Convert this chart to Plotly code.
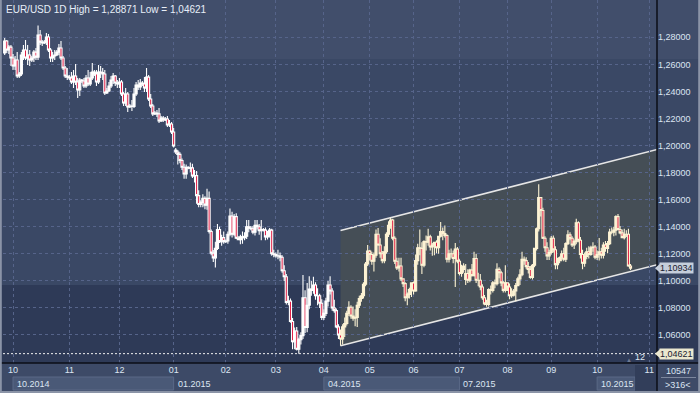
import pandas as pd
import plotly.graph_objects as go

# ---------------- data ----------------
symbol = "EUR/USD"
period = "1D"

session_start = "2014-09-26"
session_end = "2015-10-23"
sunday_sessions_until = "2015-03-01"      # feed printed Sunday candles until March 2015
closed_days = ["2014-11-30", "2014-12-25", "2015-01-01"]

opens = [
    # Sep/Oct 2014
    1.2684, 1.2773, 1.2706, 1.2728, 1.2647, 1.2588, 1.2632, 1.2514, 1.2529, 1.2669, 1.2706, 1.2647, 1.2669, 1.2632, 1.2647, 1.2691,
    1.2654, 1.2817, 1.2765, 1.2758, 1.2765, 1.2802, 1.2706, 1.2647, 1.2662, 1.2669, 1.2691, 1.2721, 1.2647, 1.2573, 1.2514,
    # Nov 2014
    1.2506, 1.2499, 1.2470, 1.2514, 1.2470, 1.2411, 1.2484, 1.2477, 1.2440, 1.2499, 1.2455, 1.2499, 1.2543, 1.2529, 1.2470, 1.2543,
    1.2540, 1.2529, 1.2389, 1.2403, 1.2440, 1.2484, 1.2514, 1.2462,
    # Dec 2014
    1.2455, 1.2470, 1.2381, 1.2315, 1.2381, 1.2285, 1.2293, 1.2290, 1.2381, 1.2448, 1.2433, 1.2462, 1.2455, 1.2426, 1.2506, 1.2344,
    1.2293, 1.2234, 1.2241, 1.2234, 1.2182, 1.2204, 1.2189, 1.2197, 1.2152, 1.2160,
    # Jan 2015
    1.2100, 1.1967, 1.1953, 1.1935, 1.1890, 1.1840, 1.1790, 1.1840, 1.1833, 1.1835, 1.1775, 1.1778, 1.1630, 1.1565, 1.1580, 1.1610,
    1.1560, 1.1610, 1.1365, 1.1205, 1.1170, 1.1240, 1.1380, 1.1290, 1.1320,
    # Feb 2015
    1.1290, 1.1295, 1.1345, 1.1480, 1.1345, 1.1475, 1.1315, 1.1305, 1.1325, 1.1320, 1.1330, 1.1400, 1.1390, 1.1385, 1.1360, 1.1410,
    1.1400, 1.1370, 1.1380, 1.1375, 1.1325, 1.1335, 1.1375, 1.1200,
    # Mar 2015
    1.1195, 1.1185, 1.1185, 1.1175, 1.1075, 1.1030, 1.0840, 1.0850, 1.0700, 1.0550, 1.0630, 1.0495, 1.0565, 1.0595, 1.0875, 1.0655,
    1.0820, 1.0940, 1.0930, 1.0970, 1.0890, 1.0890, 1.0835,
    # Apr 2015
    1.0730, 1.0760, 1.0850, 1.0970, 1.0925, 1.0800, 1.0780, 1.0660, 1.0600, 1.0570, 1.0660, 1.0685, 1.0760, 1.0805, 1.0740, 1.0725,
    1.0730, 1.0820, 1.0870, 1.0890, 1.0975, 1.1125,
    # May 2015
    1.1220, 1.1195, 1.1145, 1.1190, 1.1345, 1.1265, 1.1200, 1.1150, 1.1215, 1.1345, 1.1410, 1.1450, 1.1315, 1.1145, 1.1095, 1.1110,
    1.1015, 1.0980, 1.0875, 1.0900, 1.0935,
    # Jun 2015
    1.0985, 1.0925, 1.1150, 1.1245, 1.1240, 1.1115, 1.1290, 1.1285, 1.1325, 1.1250, 1.1265, 1.1285, 1.1245, 1.1330, 1.1365, 1.1350,
    1.1335, 1.1160, 1.1200, 1.1200, 1.1165, 1.1235,
    # Jul 2015
    1.1145, 1.1055, 1.1085, 1.1010, 1.1055, 1.1005, 1.1080, 1.1040, 1.1165, 1.1005, 1.1005, 1.0955, 1.0875, 1.0830, 1.0825, 1.0935,
    1.0930, 1.0985, 1.0980, 1.1085, 1.1060, 1.0985, 1.0930,
    # Aug 2015
    1.0985, 1.0955, 1.0890, 1.0895, 1.0925, 1.0965, 1.1015, 1.1045, 1.1160, 1.1150, 1.1105, 1.1085, 1.1025, 1.1115, 1.1240, 1.1385,
    1.1615, 1.1520, 1.1315, 1.1245, 1.1185,
    # Sep 2015
    1.1210, 1.1315, 1.1230, 1.1120, 1.1150, 1.1170, 1.1200, 1.1160, 1.1275, 1.1340, 1.1315, 1.1265, 1.1290, 1.1430, 1.1300, 1.1195,
    1.1130, 1.1180, 1.1215, 1.1195, 1.1245, 1.1250,
    # Oct 2015
    1.1175, 1.1195, 1.1215, 1.1190, 1.1265, 1.1240, 1.1275, 1.1360, 1.1360, 1.1375, 1.1475, 1.1380, 1.1355, 1.1320, 1.1345, 1.1345,
    1.1110,
]

highs = [
    1.2795, 1.2780, 1.2743, 1.2743, 1.2677, 1.2662, 1.2691, 1.2543, 1.2691, 1.2743, 1.2780, 1.2743, 1.2706, 1.2662, 1.2706, 1.2721,
    1.28871, 1.2854, 1.2780, 1.2780, 1.2832, 1.2824, 1.2721, 1.2691, 1.2706, 1.2706, 1.2751, 1.2773, 1.2662, 1.2588, 1.2573,
    1.2521, 1.2543, 1.2558, 1.2603, 1.2499, 1.2499, 1.2492, 1.2499, 1.2521, 1.2558, 1.2543, 1.2610, 1.2558, 1.2558, 1.2595, 1.2588,
    1.2573, 1.2558, 1.2426, 1.2470, 1.2514, 1.2536, 1.2521, 1.2484,
    1.2499, 1.2484, 1.2396, 1.2426, 1.2396, 1.2307, 1.2337, 1.2426, 1.2470, 1.2484, 1.2492, 1.2477, 1.2506, 1.2573, 1.2521, 1.2381,
    1.2307, 1.2256, 1.2263, 1.2278, 1.2219, 1.2219, 1.2211, 1.2219, 1.2189, 1.2174,
    1.2130, 1.1982, 1.1967, 1.1950, 1.1905, 1.1865, 1.1860, 1.1848, 1.1875, 1.1865, 1.1820, 1.1812, 1.1670, 1.1595, 1.1640, 1.1625,
    1.1680, 1.1660, 1.1380, 1.1228, 1.1290, 1.1420, 1.1400, 1.1340, 1.1365,
    1.1305, 1.1365, 1.1535, 1.1510, 1.1495, 1.1500, 1.1330, 1.1340, 1.1365, 1.1360, 1.1450, 1.1450, 1.1405, 1.1405, 1.1450, 1.1450,
    1.1420, 1.1450, 1.1390, 1.1395, 1.1370, 1.1390, 1.1385, 1.1230,
    1.1210, 1.1230, 1.1210, 1.1190, 1.1115, 1.1050, 1.0890, 1.0870, 1.0725, 1.0655, 1.0660, 1.0580, 1.0620, 1.1043, 1.0930, 1.0985,
    1.1035, 1.1000, 1.1030, 1.0990, 1.0945, 1.0905, 1.0865,
    1.0790, 1.0875, 1.1000, 1.1035, 1.0945, 1.0860, 1.0795, 1.0680, 1.0640, 1.0680, 1.0730, 1.0780, 1.0850, 1.0820, 1.0810, 1.0790,
    1.0845, 1.0890, 1.0910, 1.0990, 1.1140, 1.1265,
    1.1230, 1.1215, 1.1210, 1.1380, 1.1390, 1.1315, 1.1220, 1.1255, 1.1360, 1.1440, 1.1467, 1.1460, 1.1330, 1.1170, 1.1170, 1.1170,
    1.1020, 1.0990, 1.0915, 1.0950, 1.0990,
    1.0995, 1.1195, 1.1275, 1.1380, 1.1285, 1.1300, 1.1335, 1.1385, 1.1340, 1.1280, 1.1290, 1.1300, 1.1330, 1.1435, 1.1395, 1.1410,
    1.1345, 1.1230, 1.1240, 1.1225, 1.1280, 1.1250,
    1.1160, 1.1120, 1.1130, 1.1125, 1.1085, 1.1090, 1.1125, 1.1215, 1.1200, 1.1060, 1.1050, 1.0975, 1.0895, 1.0860, 1.0945, 1.0965,
    1.1000, 1.1010, 1.1130, 1.1100, 1.1075, 1.1000, 1.1115,
    1.0990, 1.0980, 1.0945, 1.0940, 1.0985, 1.1030, 1.1085, 1.1215, 1.1180, 1.1175, 1.1140, 1.1110, 1.1125, 1.1245, 1.1395, 1.1714,
    1.1620, 1.1540, 1.1330, 1.1285, 1.1230,
    1.1332, 1.1335, 1.1255, 1.1170, 1.1180, 1.1225, 1.1245, 1.1285, 1.1375, 1.1360, 1.1330, 1.1305, 1.1460, 1.1440, 1.1325, 1.1230,
    1.1210, 1.1245, 1.1255, 1.1260, 1.1285, 1.1265,
    1.1225, 1.1317, 1.1245, 1.1285, 1.1295, 1.1295, 1.1385, 1.1395, 1.1400, 1.1485, 1.1495, 1.1405, 1.1380, 1.1385, 1.1375, 1.1385,
    1.1125,
]

lows = [
    1.2669, 1.2684, 1.2677, 1.2588, 1.2558, 1.2558, 1.2499, 1.2499, 1.2514, 1.2632, 1.2632, 1.2595, 1.2588, 1.2617, 1.2617, 1.2632,
    1.2632, 1.2743, 1.2736, 1.2751, 1.2743, 1.2691, 1.2617, 1.2617, 1.2632, 1.2662, 1.2669, 1.2632, 1.2558, 1.2499, 1.2484,
    1.2484, 1.2455, 1.2426, 1.2448, 1.2352, 1.2367, 1.2462, 1.2426, 1.2426, 1.2440, 1.2440, 1.2484, 1.2514, 1.2440, 1.2455, 1.2499,
    1.2484, 1.2374, 1.2381, 1.2396, 1.2426, 1.2455, 1.2440, 1.2426,
    1.2426, 1.2367, 1.2293, 1.2293, 1.2248, 1.2278, 1.2256, 1.2278, 1.2367, 1.2411, 1.2411, 1.2440, 1.2396, 1.2396, 1.2330, 1.2278,
    1.2219, 1.2226, 1.2211, 1.2167, 1.2174, 1.2174, 1.2182, 1.2137, 1.2137, 1.2085,
    1.1985, 1.1938, 1.1860, 1.1870, 1.1820, 1.1755, 1.1755, 1.1825, 1.1805, 1.1760, 1.1728, 1.1570, 1.1545, 1.1545, 1.1545, 1.1530,
    1.1525, 1.1350, 1.1190, 1.1140, 1.1098, 1.1228, 1.1280, 1.1260, 1.1275,
    1.1280, 1.1275, 1.1330, 1.1320, 1.1330, 1.1310, 1.1300, 1.1270, 1.1275, 1.1300, 1.1310, 1.1360, 1.1375, 1.1345, 1.1335, 1.1380,
    1.1340, 1.1300, 1.1365, 1.1300, 1.1305, 1.1320, 1.1185, 1.1175,
    1.1170, 1.1160, 1.1145, 1.1060, 1.1000, 1.0825, 1.0820, 1.0690, 1.0495, 1.0495, 1.0485, 1.04621, 1.0530, 1.0570, 1.0615, 1.0620,
    1.0790, 1.0890, 1.0905, 1.0860, 1.0820, 1.0800, 1.0710,
    1.0710, 1.0740, 1.0810, 1.0900, 1.0780, 1.0765, 1.0650, 1.0570, 1.0521, 1.0530, 1.0585, 1.0670, 1.0740, 1.0720, 1.0705, 1.0665,
    1.0660, 1.0800, 1.0845, 1.0870, 1.0960, 1.1110,
    1.1150, 1.1120, 1.1070, 1.1170, 1.1260, 1.1170, 1.1130, 1.1130, 1.1200, 1.1325, 1.1385, 1.1300, 1.1125, 1.1080, 1.1070, 1.1000,
    1.0955, 1.0850, 1.0820, 1.0870, 1.0880,
    1.0900, 1.0920, 1.1120, 1.1190, 1.1050, 1.1100, 1.1225, 1.1260, 1.1225, 1.1185, 1.1190, 1.1205, 1.1200, 1.1320, 1.1300, 1.1320,
    1.1135, 1.1135, 1.1170, 1.1130, 1.0955, 1.1130,
    1.1040, 1.1030, 1.1060, 1.0970, 1.0985, 1.0990, 1.1030, 1.1030, 1.0985, 1.0960, 1.0930, 1.0860, 1.0820, 1.0808, 1.0810, 1.0900,
    1.0915, 1.0945, 1.0965, 1.1020, 1.0960, 1.0915, 1.0915,
    1.0925, 1.0865, 1.0875, 1.0885, 1.0850, 1.0960, 1.0970, 1.1035, 1.1120, 1.1085, 1.1055, 1.1015, 1.1010, 1.1100, 1.1225, 1.1365,
    1.1475, 1.1310, 1.1215, 1.1155, 1.1155,
    1.1195, 1.1210, 1.1085, 1.1085, 1.1130, 1.1145, 1.1145, 1.1140, 1.1265, 1.1300, 1.1250, 1.1235, 1.1270, 1.1285, 1.1165, 1.1085,
    1.1105, 1.1160, 1.1165, 1.1185, 1.1215, 1.1160,
    1.1155, 1.1150, 1.1165, 1.1165, 1.1215, 1.1205, 1.1265, 1.1345, 1.1330, 1.1335, 1.1380, 1.1345, 1.1315, 1.1305, 1.1325, 1.1105,
    1.1080,
]

closes = [
    1.2773, 1.2706, 1.2728, 1.2647, 1.2588, 1.2632, 1.2514, 1.2529, 1.2669, 1.2706, 1.2647, 1.2669, 1.2632, 1.2647, 1.2691, 1.2654,
    1.2817, 1.2765, 1.2758, 1.2765, 1.2802, 1.2706, 1.2647, 1.2662, 1.2669, 1.2691, 1.2721, 1.2647, 1.2573, 1.2514, 1.2506,
    1.2499, 1.2470, 1.2514, 1.2470, 1.2411, 1.2484, 1.2477, 1.2440, 1.2499, 1.2455, 1.2499, 1.2543, 1.2529, 1.2470, 1.2543, 1.2540,
    1.2529, 1.2389, 1.2403, 1.2440, 1.2484, 1.2514, 1.2462, 1.2455,
    1.2470, 1.2381, 1.2315, 1.2381, 1.2285, 1.2293, 1.2290, 1.2381, 1.2448, 1.2433, 1.2462, 1.2455, 1.2426, 1.2506, 1.2344, 1.2293,
    1.2234, 1.2241, 1.2234, 1.2182, 1.2204, 1.2189, 1.2197, 1.2152, 1.2160, 1.2100,
    1.1997, 1.1953, 1.1935, 1.1890, 1.1840, 1.1790, 1.1840, 1.1833, 1.1835, 1.1775, 1.1778, 1.1630, 1.1565, 1.1580, 1.1610, 1.1560,
    1.1610, 1.1365, 1.1205, 1.1170, 1.1240, 1.1380, 1.1290, 1.1320, 1.1290,
    1.1295, 1.1345, 1.1480, 1.1345, 1.1475, 1.1315, 1.1305, 1.1325, 1.1320, 1.1330, 1.1400, 1.1390, 1.1385, 1.1360, 1.1410, 1.1400,
    1.1370, 1.1380, 1.1375, 1.1325, 1.1335, 1.1375, 1.1200, 1.1195,
    1.1185, 1.1185, 1.1175, 1.1075, 1.1030, 1.0840, 1.0850, 1.0700, 1.0550, 1.0630, 1.0495, 1.0565, 1.0595, 1.0875, 1.0655, 1.0820,
    1.0940, 1.0930, 1.0970, 1.0890, 1.0890, 1.0835, 1.0730,
    1.0760, 1.0850, 1.0970, 1.0925, 1.0800, 1.0780, 1.0660, 1.0600, 1.0570, 1.0660, 1.0685, 1.0760, 1.0805, 1.0740, 1.0725, 1.0730,
    1.0820, 1.0870, 1.0890, 1.0975, 1.1125, 1.1220,
    1.1195, 1.1145, 1.1190, 1.1345, 1.1265, 1.1200, 1.1150, 1.1215, 1.1345, 1.1410, 1.1450, 1.1315, 1.1145, 1.1095, 1.1110, 1.1015,
    1.0980, 1.0875, 1.0900, 1.0935, 1.0985,
    1.0925, 1.1150, 1.1245, 1.1240, 1.1115, 1.1290, 1.1285, 1.1325, 1.1250, 1.1265, 1.1285, 1.1245, 1.1330, 1.1365, 1.1350, 1.1335,
    1.1160, 1.1200, 1.1200, 1.1165, 1.1235, 1.1145,
    1.1055, 1.1085, 1.1110, 1.1055, 1.1005, 1.1080, 1.1040, 1.1165, 1.1005, 1.1005, 1.0955, 1.0875, 1.0830, 1.0825, 1.0935, 1.0930,
    1.0985, 1.0980, 1.1085, 1.1060, 1.0985, 1.0930, 1.0985,
    1.0955, 1.0890, 1.0895, 1.0925, 1.0965, 1.1015, 1.1045, 1.1160, 1.1150, 1.1105, 1.1085, 1.1025, 1.1115, 1.1240, 1.1385, 1.1615,
    1.1520, 1.1315, 1.1245, 1.1185, 1.1210,
    1.1315, 1.1230, 1.1120, 1.1150, 1.1170, 1.1200, 1.1160, 1.1275, 1.1340, 1.1315, 1.1265, 1.1290, 1.1430, 1.1300, 1.1195, 1.1130,
    1.1180, 1.1215, 1.1195, 1.1245, 1.1250, 1.1175,
    1.1195, 1.1215, 1.1190, 1.1265, 1.1240, 1.1275, 1.1360, 1.1360, 1.1375, 1.1475, 1.1380, 1.1355, 1.1320, 1.1345, 1.1345, 1.1110,
    1.10934,
]

price_ticks = [1.06, 1.08, 1.10, 1.12, 1.14, 1.16, 1.18, 1.20, 1.22, 1.24, 1.26, 1.28]
quarter_labels = ["10.2014", "01.2015", "04.2015", "07.2015", "10.2015"]
boxed_quarters = ["10.2014", "04.2015", "10.2015"]
next_month_label = "11"
next_month_date = "2015-11-01"

channel_anchor_date = "2015-04-13"   # channel drawn from the April low
channel_anchor_price = 1.0521
channel_slope = 0.000394             # price per session
channel_height = 0.0852

footer_counts = ["10547", ">316<"]
future_bars_label = "12"

# ---------------- sessions ----------------
sunday_limit = pd.Timestamp(sunday_sessions_until)
closed = set(pd.to_datetime(closed_days))
dates = [d for d in pd.date_range(session_start, session_end, freq="D")
         if d.weekday() != 5 and not (d.weekday() == 6 and d > sunday_limit) and d not in closed]
n = len(dates)
assert n == len(opens) == len(highs) == len(lows) == len(closes), (n, len(opens), len(highs), len(lows), len(closes))
xs = list(range(n))

# ---------------- geometry / style ----------------
W, H = 700, 393
PL, PR, PT, PB = 3, 657, 0, 363
X_RANGE = [-0.8, 312.7]
Y_RANGE = [1.0393, 1.3076]


def px(xp):
    return (xp - PL) / (PR - PL)


def py(yp):
    return (PB - yp) / (PB - PT)


FONT = "Liberation Sans, Arial, sans-serif"
TXT = "#dce5f2"
GRID = "#56648a"
WHITE = "#ffffff"
CREAM = "#fdf3d4"
RED = "#e0163f"


def fmt(v):
    return f"{v:.5f}".replace(".", ",")


# month ticks
month_idx = [i for i in range(1, n) if dates[i].month != dates[i - 1].month]
month_txt = [dates[i].strftime("%m") for i in month_idx]
future_idx = xs[-1] + (pd.Timestamp(next_month_date) - dates[-1]).days
tick_idx = month_idx + [future_idx]
tick_txt = month_txt + [next_month_label]
quarter_idx = [i for i in month_idx if dates[i].month in (1, 4, 7, 10)]
future_edge = xs[-1] + 2.2

split = dates.index(pd.Timestamp(channel_anchor_date))

fig = go.Figure()


def candles(sl, col):
    fig.add_trace(go.Candlestick(
        x=xs[sl], open=opens[sl], high=highs[sl], low=lows[sl], close=closes[sl],
        increasing=dict(line=dict(color=col, width=1.1), fillcolor=col),
        decreasing=dict(line=dict(color=col, width=1.1), fillcolor=RED),
        whiskerwidth=0, hoverinfo="skip", showlegend=False))


candles(slice(0, split), WHITE)
candles(slice(split, n), CREAM)

shapes = []
# background bands
for y0, y1, c in [(0, 59, "#414e6b"), (59, 285, "#3a4865"), (285, 363, "#2e3a57"), (363, 393, "#3d4a67")]:
    shapes.append(dict(type="rect", xref="paper", yref="paper", x0=px(0), x1=px(700), y0=py(y1), y1=py(y0),
                       fillcolor=c, line=dict(width=0), layer="below"))

# channel
cx0 = split
cx1 = X_RANGE[1] + 5
lo0 = channel_anchor_price
lo1 = channel_anchor_price + channel_slope * (cx1 - cx0)
shapes.append(dict(type="path", xref="x", yref="y", layer="below",
                   path=f"M {cx0},{lo0} L {cx1},{lo1} L {cx1},{lo1 + channel_height} L {cx0},{lo0 + channel_height} Z",
                   fillcolor="#454e56", line=dict(width=0)))
for off in (0, channel_height):
    shapes.append(dict(type="line", xref="x", yref="y", layer="below", x0=cx0, x1=cx1,
                       y0=lo0 + off, y1=lo1 + off, line=dict(color="#e6e6e6", width=1.5)))

# low level dotted line
low_val = min(lows)
shapes.append(dict(type="line", xref="paper", yref="y", x0=0, x1=1, y0=low_val, y1=low_val,
                   line=dict(color="#f0f0f0", width=1, dash="2px,2px")))

# year boxes
for k, qi in enumerate(quarter_idx):
    lab = quarter_labels[k]
    end = quarter_idx[k + 1] if k + 1 < len(quarter_idx) else future_edge
    if lab in boxed_quarters:
        shapes.append(dict(type="rect", xref="x", yref="paper", x0=qi, x1=end, y0=py(390), y1=py(377),
                           fillcolor="#4a5977", line=dict(color="#5a6987", width=1), layer="below"))
# future month box
shapes.append(dict(type="rect", xref="x", yref="paper", x0=future_edge, x1=X_RANGE[1], y0=py(391), y1=py(365),
                   fillcolor="#323e5a", line=dict(width=0), layer="below"))

# separators and frame
shapes.append(dict(type="line", xref="paper", yref="paper", x0=px(0), x1=px(700), y0=py(363), y1=py(363),
                   line=dict(color="#0b0e16", width=1.5)))
shapes.append(dict(type="line", xref="paper", yref="paper", x0=px(657), x1=px(657), y0=py(0), y1=py(393),
                   line=dict(color="#0b0e16", width=1.5)))
shapes.append(dict(type="line", xref="paper", yref="paper", x0=px(661), x1=px(696), y0=py(377.5), y1=py(377.5),
                   line=dict(color="#7c879e", width=1)))
for x0, x1, y0, y1 in [(0.8, 0.8, 0, 393), (699.2, 699.2, 0, 393), (0, 700, 392, 392)]:
    shapes.append(dict(type="line", xref="paper", yref="paper", x0=px(x0), x1=px(x1), y0=py(y0), y1=py(y1),
                       line=dict(color="#8b94a7", width=2)))

# price markers (arrow tips)
last_val = closes[-1]
for v, c in [(last_val, "#c5cedb"), (low_val, "#ebe8cf")]:
    d = 4.5 * (Y_RANGE[1] - Y_RANGE[0]) / (PB - PT)
    shapes.append(dict(type="path", xref="paper", yref="y", fillcolor=c, line=dict(width=0),
                       path=f"M {px(655)},{v} L {px(660)},{v + d} L {px(660)},{v - d} Z"))

annotations = [
    dict(x=px(4), y=py(10), xref="paper", yref="paper", xanchor="left", yanchor="middle", showarrow=False,
         text=f"{symbol} {period} High = {fmt(max(highs))} Low = {fmt(min(lows))}",
         font=dict(family=FONT, size=10, color="#e8eef8")),
    dict(x=px(659), y=last_val, xref="paper", yref="y", xanchor="left", yanchor="middle", showarrow=False,
         text=fmt(last_val), bgcolor="#c5cedb", borderpad=0, font=dict(family=FONT, size=9, color="#1a2030")),
    dict(x=px(659), y=low_val, xref="paper", yref="y", xanchor="left", yanchor="middle", showarrow=False,
         text=fmt(low_val), bgcolor="#ebe8cf", borderpad=0, font=dict(family=FONT, size=9, color="#1a2030")),
    dict(x=px(640), y=py(357), xref="paper", yref="paper", xanchor="center", yanchor="middle", showarrow=False,
         text=future_bars_label, font=dict(family=FONT, size=9, color=TXT)),
    dict(x=px(629), y=py(359.5), xref="paper", yref="paper", xanchor="center", yanchor="middle", showarrow=False,
         text="▲", font=dict(family=FONT, size=6, color="#6f7b93")),
    dict(x=px(678), y=py(371), xref="paper", yref="paper", xanchor="center", yanchor="middle", showarrow=False,
         text=footer_counts[0], font=dict(family=FONT, size=9, color=TXT)),
    dict(x=px(678), y=py(384.5), xref="paper", yref="paper", xanchor="center", yanchor="middle", showarrow=False,
         text=footer_counts[1], font=dict(family=FONT, size=9, color=TXT)),
]
for k, qi in enumerate(quarter_idx):
    annotations.append(dict(x=qi, y=py(383.5), xref="x", yref="paper", xanchor="left", yanchor="middle",
                            xshift=2, showarrow=False, text=quarter_labels[k],
                            font=dict(family=FONT, size=9, color=TXT)))

fig.update_layout(
    width=W, height=H,
    margin=dict(l=PL, r=W - PR, t=PT, b=H - PB, autoexpand=False),
    paper_bgcolor="#3a4865", plot_bgcolor="rgba(0,0,0,0)",
    separators=",.",
    boxgap=0.0, boxgroupgap=0,
    showlegend=False, hovermode=False,
    shapes=shapes, annotations=annotations,
    xaxis=dict(range=X_RANGE, tickvals=tick_idx, ticktext=tick_txt, ticks="", showgrid=True, automargin=False,
               gridcolor=GRID, griddash="3px,3px", gridwidth=1, zeroline=False, showline=False,
               tickfont=dict(family=FONT, size=9, color=TXT), rangeslider=dict(visible=False), fixedrange=True),
    yaxis=dict(range=Y_RANGE, side="right", tickvals=price_ticks, tickformat=".5f", ticks="", showgrid=True,
               automargin=False, gridcolor=GRID, griddash="3px,3px", gridwidth=1, zeroline=False, showline=False,
               tickfont=dict(family=FONT, size=9, color=TXT), fixedrange=True),
)

fig.write_html("out.html", config={"displayModeBar": False},
               post_script="document.body.style.margin='0';document.body.style.overflow='hidden';")
